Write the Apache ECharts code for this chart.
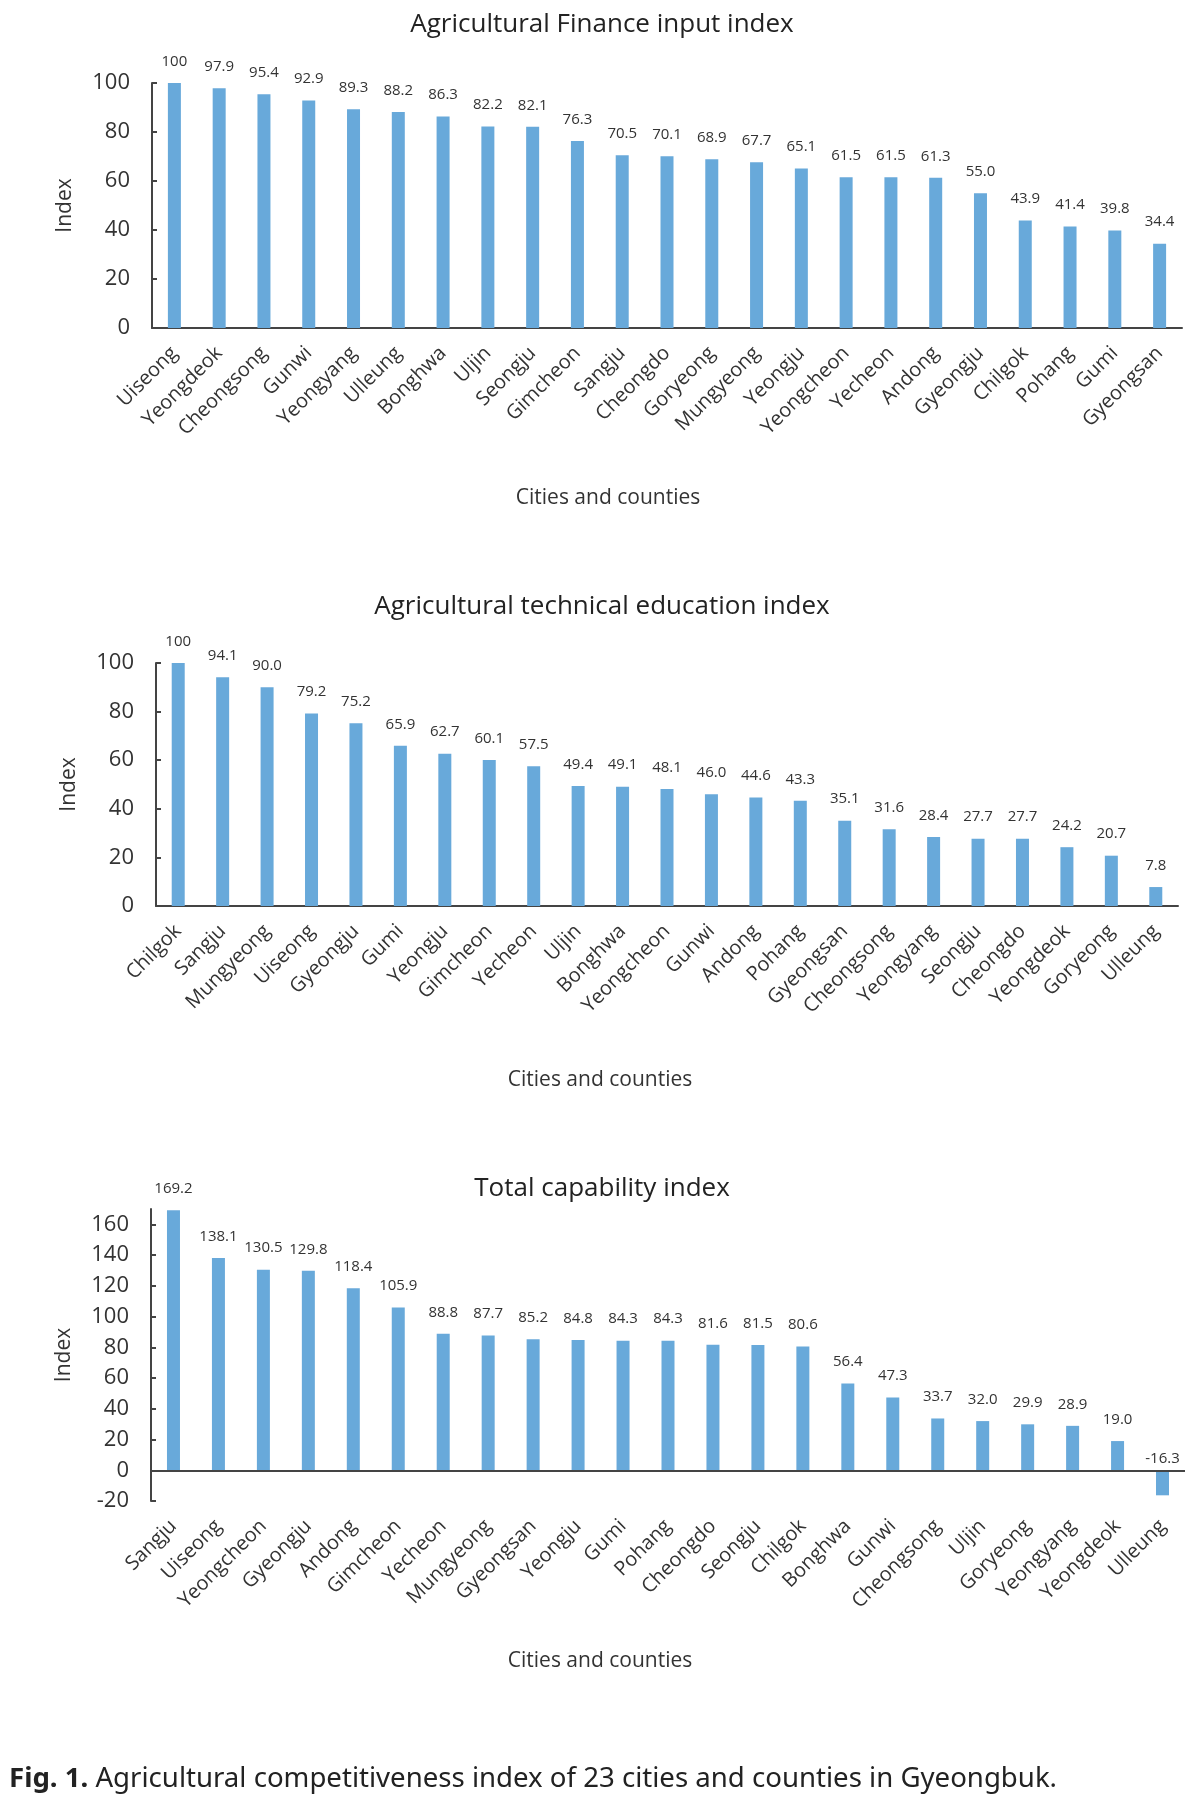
<!DOCTYPE html>
<html>
<head>
<meta charset="utf-8">
<script src="https://cdn.jsdelivr.net/npm/echarts@6/dist/echarts.min.js"></script>
<style>
  html, body { margin: 0; padding: 0; background: #fff; }
  #chart { width: 1204px; height: 1799px; }
</style>
</head>
<body>
<div id="chart"></div>
<script>
// chart 1: finance input
const financeCities = ['Uiseong', 'Yeongdeok', 'Cheongsong', 'Gunwi', 'Yeongyang', 'Ulleung', 'Bonghwa', 'Uljin', 'Seongju', 'Gimcheon', 'Sangju', 'Cheongdo', 'Goryeong', 'Mungyeong', 'Yeongju', 'Yeongcheon', 'Yecheon', 'Andong', 'Gyeongju', 'Chilgok', 'Pohang', 'Gumi', 'Gyeongsan']
const financeValues = [100, 97.9, 95.4, 92.9, 89.3, 88.2, 86.3, 82.2, 82.1, 76.3, 70.5, 70.1, 68.9, 67.7, 65.1, 61.5, 61.5, 61.3, 55.0, 43.9, 41.4, 39.8, 34.4]

// chart 2: technical education
const eduCities = ['Chilgok', 'Sangju', 'Mungyeong', 'Uiseong', 'Gyeongju', 'Gumi', 'Yeongju', 'Gimcheon', 'Yecheon', 'Uljin', 'Bonghwa', 'Yeongcheon', 'Gunwi', 'Andong', 'Pohang', 'Gyeongsan', 'Cheongsong', 'Yeongyang', 'Seongju', 'Cheongdo', 'Yeongdeok', 'Goryeong', 'Ulleung']
const eduValues = [100, 94.1, 90.0, 79.2, 75.2, 65.9, 62.7, 60.1, 57.5, 49.4, 49.1, 48.1, 46.0, 44.6, 43.3, 35.1, 31.6, 28.4, 27.7, 27.7, 24.2, 20.7, 7.8]

// chart 3: total capability
const totalCities = ['Sangju', 'Uiseong', 'Yeongcheon', 'Gyeongju', 'Andong', 'Gimcheon', 'Yecheon', 'Mungyeong', 'Gyeongsan', 'Yeongju', 'Gumi', 'Pohang', 'Cheongdo', 'Seongju', 'Chilgok', 'Bonghwa', 'Gunwi', 'Cheongsong', 'Uljin', 'Goryeong', 'Yeongyang', 'Yeongdeok', 'Ulleung']
const totalValues = [169.2, 138.1, 130.5, 129.8, 118.4, 105.9, 88.8, 87.7, 85.2, 84.8, 84.3, 84.3, 81.6, 81.5, 80.6, 56.4, 47.3, 33.7, 32.0, 29.9, 28.9, 19.0, -16.3]

const titles = ['Agricultural Finance input index', 'Agricultural technical education index', 'Total capability index']
const xName = 'Cities and counties'
const yName = 'Index'

const FONT = 'Open Sans'
const TEXT = '#333'
const BAR = '#68a9da'

const chart = echarts.init(document.getElementById('chart'))

const grids = [
  { left: 152, top: 83, width: 1030, height: 245 },
  { left: 156, top: 663, width: 1022, height: 243 },
  { left: 151, top: 1209, width: 1034, height: 292 },
]
const yRanges = [
  { min: 0, max: 100, interval: 20 },
  { min: 0, max: 100, interval: 20 },
  { min: -20, max: 170, interval: 20 },
]
const nameGaps = [160, 164, 150]
// the axis title sits left of the plot centre in the original
const nameShift = [118, 134, 136]
const cats = [financeCities, eduCities, totalCities]
const vals = [financeValues, eduValues, totalValues]

const option = {
  backgroundColor: '#fff',
  textStyle: { fontFamily: FONT },
  title: [
    { text: titles[0], left: 'center', top: 7 },
    { text: titles[1], left: 'center', top: 589 },
    { text: titles[2], left: 'center', top: 1171 },
  ].map(t => ({ ...t, textStyle: { fontFamily: FONT, fontSize: 26, fontWeight: 'normal', color: '#222' } })),
  grid: grids,
  xAxis: cats.map((c, i) => ({
    type: 'category',
    gridIndex: i,
    data: c,
    name: xName,
    nameLocation: 'middle',
    nameGap: nameGaps[i],
    nameTextStyle: { fontSize: 21, color: TEXT, padding: [0, nameShift[i], 0, 0] },
    axisLine: { show: i !== 2, onZero: false, lineStyle: { color: '#444', width: 2 } },
    axisTick: { show: false },
    axisLabel: { interval: 0, rotate: 45, fontSize: 20, color: TEXT, margin: 22 },
  })),
  yAxis: yRanges.map((r, i) => ({
    type: 'value',
    gridIndex: i,
    min: r.min,
    max: r.max,
    interval: r.interval,
    name: yName,
    nameLocation: 'middle',
    nameRotate: 90,
    nameGap: 76,
    nameTextStyle: { fontSize: 21, color: TEXT },
    axisLine: { show: true, lineStyle: { color: '#444', width: 2 } },
    axisTick: { show: true, inside: true, length: 5, lineStyle: { color: '#444', width: 2 } },
    axisLabel: { fontSize: 22, color: TEXT, margin: 22, showMaxLabel: i !== 2 },
    splitLine: { show: false },
  })),
  series: vals.map((v, i) => ({
    type: 'bar',
    xAxisIndex: i,
    yAxisIndex: i,
    barWidth: 13,
    itemStyle: { color: BAR },
    data: v.map(x => x < 0 ? { value: x, label: { distance: 4 } } : x),
    label: {
      show: true,
      position: 'top',
      distance: 14,
      fontSize: 15,
      color: TEXT,
      formatter: p => p.value === 100 ? '100' : p.value.toFixed(1),
    },
    markLine: i === 2 ? {
      silent: true,
      symbol: 'none',
      label: { show: false },
      lineStyle: { color: '#444', width: 2, type: 'solid' },
      data: [{ yAxis: 0 }],
    } : undefined,
  })),
  graphic: [
    {
      type: 'text',
      left: 9,
      top: 1765,
      style: {
        text: '{b|Fig. 1.} Agricultural competitiveness index of 23 cities and counties in Gyeongbuk.',
        font: '27.6px "Noto Sans"',
        fill: '#222',
        rich: {
          b: { fontWeight: 'bold', fontSize: 27.6, fontFamily: 'Noto Sans', fill: '#222' },
        },
      },
    },
  ],
}

chart.setOption(option)
</script>
</body>
</html>
